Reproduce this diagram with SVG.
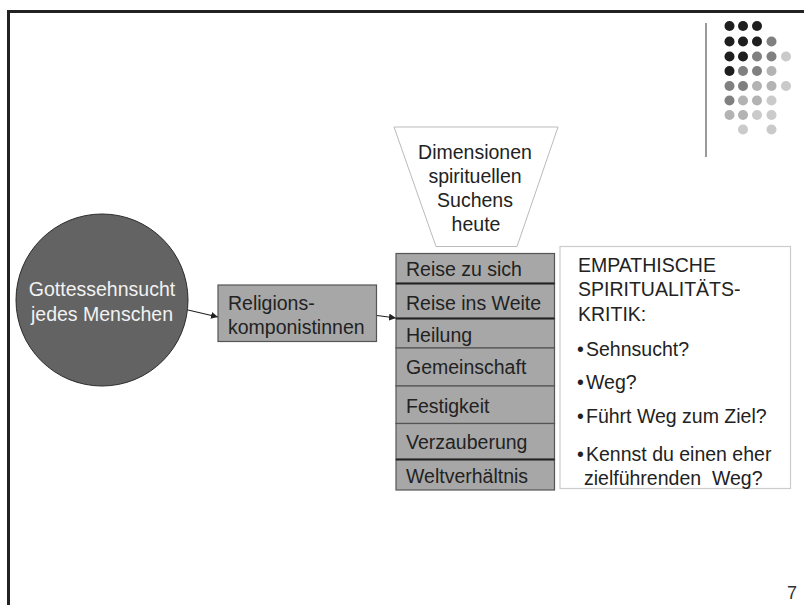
<svg xmlns="http://www.w3.org/2000/svg" width="804" height="605" viewBox="0 0 804 605">
<defs>
<style>
text{font-family:"Liberation Sans",Arial,sans-serif;font-size:19.5px;fill:#222}
.row{fill:#a7a7a7;stroke:#555;stroke-width:1.2}
.sep{stroke:#222;stroke-width:2}
.con{stroke:#222;stroke-width:1.2;fill:none;marker-end:url(#ah)}
.D{fill:#1e1e1e}.M{fill:#808080}.L{fill:#b3b3b3}.P{fill:#cacaca}
</style>
<marker id="ah" viewBox="0 0 10 10" refX="10" refY="5" markerWidth="7" markerHeight="7" markerUnits="userSpaceOnUse" orient="auto">
<path d="M0,0 L10,5 L0,10 z" fill="#222"/>
</marker>
</defs>
<rect width="804" height="605" fill="#fff"/>
<g id="frame">
<path d="M8.5,605 V11.5 H804" fill="none" stroke="#222" stroke-width="3"/>
</g>
<g id="logo">
<line x1="706" y1="23" x2="706" y2="157" stroke="#9a9a9a" stroke-width="2"/>
<circle class="D" cx="729.5" cy="26" r="5"/><circle class="D" cx="743" cy="26" r="5"/><circle class="D" cx="757" cy="26" r="5"/>
<circle class="D" cx="729.5" cy="41.5" r="5"/><circle class="D" cx="743" cy="41.5" r="5"/><circle class="D" cx="757" cy="41.5" r="5"/><circle class="M" cx="771.5" cy="41.5" r="5"/>
<circle class="D" cx="729.5" cy="56.5" r="5"/><circle class="D" cx="743" cy="56.5" r="5"/><circle class="M" cx="757" cy="56.5" r="5"/><circle class="M" cx="771.5" cy="56.5" r="5"/><circle class="P" cx="786" cy="56.5" r="5"/>
<circle class="D" cx="729.5" cy="71" r="5"/><circle class="M" cx="743" cy="71" r="5"/><circle class="M" cx="757" cy="71" r="5"/><circle class="L" cx="771.5" cy="71" r="5"/>
<circle class="M" cx="729.5" cy="86" r="5"/><circle class="M" cx="743" cy="86" r="5"/><circle class="L" cx="757" cy="86" r="5"/><circle class="L" cx="771.5" cy="86" r="5"/><circle class="P" cx="786" cy="86" r="5"/>
<circle class="M" cx="729.5" cy="100.5" r="5"/><circle class="L" cx="743" cy="100.5" r="5"/><circle class="L" cx="757" cy="100.5" r="5"/><circle class="P" cx="771.5" cy="100.5" r="5"/>
<circle class="L" cx="729.5" cy="115" r="5"/><circle class="L" cx="743" cy="115" r="5"/><circle class="P" cx="757" cy="115" r="5"/><circle class="P" cx="771.5" cy="115" r="5"/>
<circle class="P" cx="743" cy="129.5" r="5"/><circle class="P" cx="771.5" cy="129.5" r="5"/>
</g>
<g id="connectors">
<line class="con" x1="188" y1="310" x2="218" y2="317"/>
<line class="con" x1="377" y1="315.5" x2="396" y2="318"/>
</g>
<g id="sehnsucht">
<circle cx="102" cy="300" r="86" fill="#636363" stroke="#2a2a2a" stroke-width="1"/>
<text x="102" y="296" text-anchor="middle" style="fill:#f2f2f2">Gottessehnsucht</text>
<text x="102" y="321" text-anchor="middle" style="fill:#f2f2f2">jedes Menschen</text>
</g>
<g id="religionskomponistinnen">
<rect x="218" y="285" width="158.5" height="56.5" fill="#a7a7a7" stroke="#555" stroke-width="1.2"/>
<text x="228" y="310">Religions-</text>
<text x="228" y="333.5">komponistinnen</text>
</g>
<g id="dimensionen">
<path d="M394,127 H558 L517,246.5 H436 Z" fill="#fff" stroke="#bbb" stroke-width="1"/>
<text x="475" y="159" text-anchor="middle">Dimensionen</text>
<text x="475" y="183" text-anchor="middle">spirituellen</text>
<text x="475" y="207" text-anchor="middle">Suchens</text>
<text x="476" y="231" text-anchor="middle">heute</text>
</g>
<g id="liste">
<rect class="row" x="396" y="253.5" width="158.5" height="30"/>
<rect class="row" x="396" y="283.5" width="158.5" height="35"/>
<rect class="row" x="396" y="318.5" width="158.5" height="29.5"/>
<rect class="row" x="396" y="348" width="158.5" height="38"/>
<rect class="row" x="396" y="386" width="158.5" height="37.5"/>
<rect class="row" x="396" y="423.5" width="158.5" height="36"/>
<rect class="row" x="396" y="459.5" width="158.5" height="30.5"/>
<line class="sep" x1="396" y1="283.5" x2="554.5" y2="283.5"/>
<line class="sep" x1="396" y1="318.5" x2="554.5" y2="318.5"/>
<line class="sep" x1="396" y1="459.5" x2="554.5" y2="459.5"/>
<text x="406" y="276">Reise zu sich</text>
<text x="406" y="309.5">Reise ins Weite</text>
<text x="406" y="341.5">Heilung</text>
<text x="406" y="373.5">Gemeinschaft</text>
<text x="406" y="412.5">Festigkeit</text>
<text x="406" y="448.5">Verzauberung</text>
<text x="406" y="482.5">Weltverhältnis</text>
</g>
<g id="kritik">
<rect x="560" y="246.5" width="230.5" height="242" fill="#fff" stroke="#ccc" stroke-width="1.2"/>
<text x="578" y="271.5">EMPATHISCHE</text>
<text x="578" y="296">SPIRITUALITÄTS-</text>
<text x="578" y="320.5">KRITIK:</text>
<text x="577" y="355.5">•</text><text x="586" y="355.5">Sehnsucht?</text>
<text x="577" y="389">•</text><text x="586" y="389">Weg?</text>
<text x="577" y="423">•</text><text x="586" y="423">Führt Weg zum Ziel?</text>
<text x="577" y="461">•</text><text x="586" y="461">Kennst du einen eher</text>
<text x="584" y="484.5" xml:space="preserve">zielführenden  Weg?</text>
</g>
<g id="page">
<text x="797" y="599" text-anchor="end" style="font-size:18px;fill:#333">7</text>
</g>
</svg>
